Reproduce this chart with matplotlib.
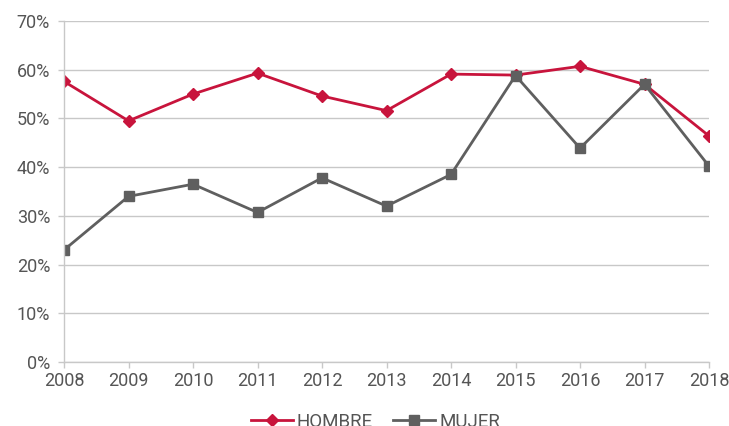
import matplotlib
matplotlib.use("Agg")
import matplotlib.pyplot as plt
from matplotlib.ticker import PercentFormatter

years = [2008, 2009, 2010, 2011, 2012, 2013, 2014, 2015, 2016, 2017, 2018]
hombre = [57.6, 49.5, 55.0, 59.3, 54.6, 51.6, 59.1, 58.9, 60.7, 57.0, 46.4]
mujer = [23.0, 34.0, 36.5, 30.7, 37.8, 32.0, 38.5, 58.8, 43.9, 57.0, 40.2]

plt.rcParams['font.family'] = ['Roboto', 'DejaVu Sans']
text_color = '#555555'
grid_color = '#C8C8C8'

fig = plt.figure(figsize=(7.29, 4.26), dpi=100)
ax = fig.add_axes([0.0878, 0.1502, 0.9726 - 0.0878, 0.9507 - 0.1502])

ax.plot(years, hombre, color='#C8143C', lw=2.0, marker='D', markersize=6, label='HOMBRE')
ax.plot(years, mujer, color='#5F5F5F', lw=2.0, marker='s', markersize=7.5, label='MUJER')

ax.set_xlim(2008, 2018)
ax.set_ylim(0, 70)
ax.set_xticks(years)
ax.set_yticks(range(0, 71, 10))
ax.yaxis.set_major_formatter(PercentFormatter(decimals=0))
ax.grid(axis='y', color=grid_color, lw=1)
ax.set_axisbelow(True)
for s in ['top', 'right']:
    ax.spines[s].set_visible(False)
for s in ['left', 'bottom']:
    ax.spines[s].set_color(grid_color)
    ax.spines[s].set_linewidth(1)
ax.tick_params(axis='both', colors=grid_color, length=4, width=1,
               labelcolor=text_color, labelsize=13)
ax.tick_params(axis='y', pad=6)
ax.tick_params(axis='x', pad=3)

leg = fig.legend(loc='center', bbox_to_anchor=(0.515, 0.01), ncol=2, frameon=False,
                 fontsize=13.5, handlelength=2.24, handletextpad=0.2, columnspacing=1.1,
                 labelcolor=text_color, borderpad=0)

fig.savefig('out.png', dpi=100)
